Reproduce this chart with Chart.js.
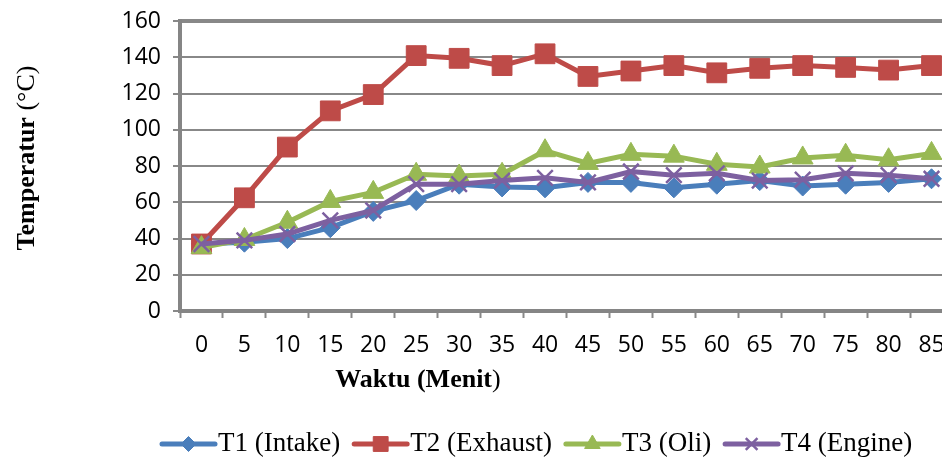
<!DOCTYPE html>
<html>
<head>
<meta charset="utf-8">
<script src="https://cdn.jsdelivr.net/npm/chart.js@4/dist/chart.umd.min.js"></script>
<style>
  html, body { margin: 0; padding: 0; background: #fff; overflow: hidden; }
  canvas { display: block; }
</style>
</head>
<body>
<canvas id="tempChart" width="968" height="459"></canvas>
<script>
// Data
const minutes = ['0', '5', '10', '15', '20', '25', '30', '35', '40', '45', '50', '55', '60', '65', '70', '75', '80', '85'];
const intake  = [37, 38, 40, 46, 55, 61, 70, 68.5, 68, 71, 71, 68, 70, 72, 69, 70, 71, 73];
const exhaust = [37, 62.5, 90.5, 110.5, 119.5, 141, 139.5, 135.5, 142, 129.5, 132.5, 135.5, 131.5, 134, 135.5, 134.5, 133, 135.5];
const oli     = [35, 39.5, 49, 60.5, 65.5, 75.5, 74.5, 75.5, 88.5, 81.5, 86.5, 85.5, 81, 79.5, 84.5, 86, 83.5, 87];
const engine  = [37, 39, 42.5, 50, 55.5, 70, 70, 72, 73.5, 71, 77, 75, 76, 72, 72.5, 76, 75, 73];

const seriesNames = ['T1 (Intake)', 'T2 (Exhaust)', 'T3 (Oli)', 'T4 (Engine)'];
const xTitle = 'Waktu (Menit';
const yTitleMain = 'Temperatur ';
const yTitleUnit = '(°C)';

const gridGray = '#888888';
const axisGray = '#858585';

function series(label, data, color, style, radius, order) {
    return {
        label: label,
        data: data,
        borderColor: color,
        backgroundColor: color,
        pointBackgroundColor: color,
        pointBorderColor: color,
        borderWidth: 5,
        pointStyle: style,
        pointRadius: radius,
        pointBorderWidth: style === 'crossRot' ? 2.5 : 1,
        tension: 0,
        order: order
    };
}

// Axis titles and legend drawn by hand (mixed bold / regular text, line+marker legend)
const extras = {
    id: 'extras',
    afterDraw(chart) {
        const ctx = chart.ctx;
        ctx.save();
        ctx.fillStyle = '#000';
        ctx.textBaseline = 'middle';
        ctx.textAlign = 'left';

        // y title
        ctx.save();
        ctx.translate(27, 158);
        ctx.rotate(-Math.PI / 2);
        ctx.font = 'bold 26px "Liberation Serif"';
        const w1 = ctx.measureText(yTitleMain).width;
        ctx.font = '26px "Liberation Serif"';
        const w2 = ctx.measureText(yTitleUnit).width;
        let x0 = -(w1 + w2) / 2;
        ctx.font = 'bold 26px "Liberation Serif"';
        ctx.fillText(yTitleMain, x0, 0);
        ctx.font = '26px "Liberation Serif"';
        ctx.fillText(yTitleUnit, x0 + w1, 0);
        ctx.restore();

        // x title
        ctx.font = 'bold 26px "Liberation Serif"';
        const wx = ctx.measureText(xTitle).width;
        ctx.font = '26px "Liberation Serif"';
        const wp = ctx.measureText(')').width;
        x0 = 418 - (wx + wp) / 2;
        ctx.font = 'bold 26px "Liberation Serif"';
        ctx.fillText(xTitle, x0, 380);
        ctx.font = '26px "Liberation Serif"';
        ctx.fillText(')', x0 + wx, 380);

        // legend
        let x = 162;
        const y = 444;
        ctx.font = '27px "Liberation Serif"';
        chart.data.datasets.forEach(ds => {
            ctx.strokeStyle = ds.borderColor;
            ctx.lineWidth = 5;
            ctx.lineCap = 'round';
            ctx.beginPath();
            ctx.moveTo(x, y);
            ctx.lineTo(x + 53, y);
            ctx.stroke();
            ctx.fillStyle = ds.pointBackgroundColor;
            ctx.strokeStyle = ds.pointBorderColor;
            ctx.lineWidth = ds.pointBorderWidth;
            ctx.lineCap = 'butt';
            Chart.helpers.drawPoint(ctx, {
                pointStyle: ds.pointStyle,
                radius: ds.pointRadius * 0.75,
                borderWidth: ds.pointBorderWidth,
                rotation: 0
            }, x + 26.5, y);
            ctx.fillStyle = '#000';
            ctx.fillText(ds.label, x + 56, y);
            x += 56 + ctx.measureText(ds.label).width + 14;
        });
        ctx.restore();
    }
};

const ctx = document.getElementById('tempChart').getContext('2d');
const tempChart = new Chart(ctx, {
    type: 'line',
    data: {
        labels: minutes,
        datasets: [
            series(seriesNames[0], intake, '#4a7ebb', 'rectRot', 10, 4),
            series(seriesNames[1], exhaust, '#be4b48', 'rect', 14, 3),
            series(seriesNames[2], oli, '#98b954', 'triangle', 12, 2),
            series(seriesNames[3], engine, '#7d60a0', 'crossRot', 11, 1)
        ]
    },
    options: {
        responsive: false,
        animation: false,
        layout: { padding: { top: 19, right: 6, left: 0, bottom: 0 } },
        plugins: {
            legend: { display: false },
            tooltip: { enabled: false }
        },
        scales: {
            x: {
                offset: true,
                grid: {
                    offset: true,
                    drawOnChartArea: false,
                    drawTicks: true,
                    tickLength: 7,
                    tickWidth: 2,
                    tickColor: gridGray
                },
                border: { color: axisGray, width: 4 },
                ticks: {
                    color: '#000',
                    font: { family: '"Open Sans"', size: 23 },
                    padding: 14,
                    maxRotation: 0,
                    autoSkip: false
                },
                afterFit(scale) { scale.height = 148; }
            },
            y: {
                min: 0,
                max: 160,
                ticks: {
                    stepSize: 20,
                    color: '#000',
                    font: { family: '"Open Sans"', size: 23, lineHeight: 0.8 },
                    padding: 12
                },
                grid: {
                    color: gridGray,
                    lineWidth: c => (c.tick && c.tick.value === 160 ? 4 : 2),
                    tickLength: 7,
                    tickWidth: 2,
                    tickColor: gridGray
                },
                border: { color: axisGray, width: 4 },
                afterFit(scale) { scale.width = 180; }
            }
        }
    },
    plugins: [extras]
});
</script>
</body>
</html>
